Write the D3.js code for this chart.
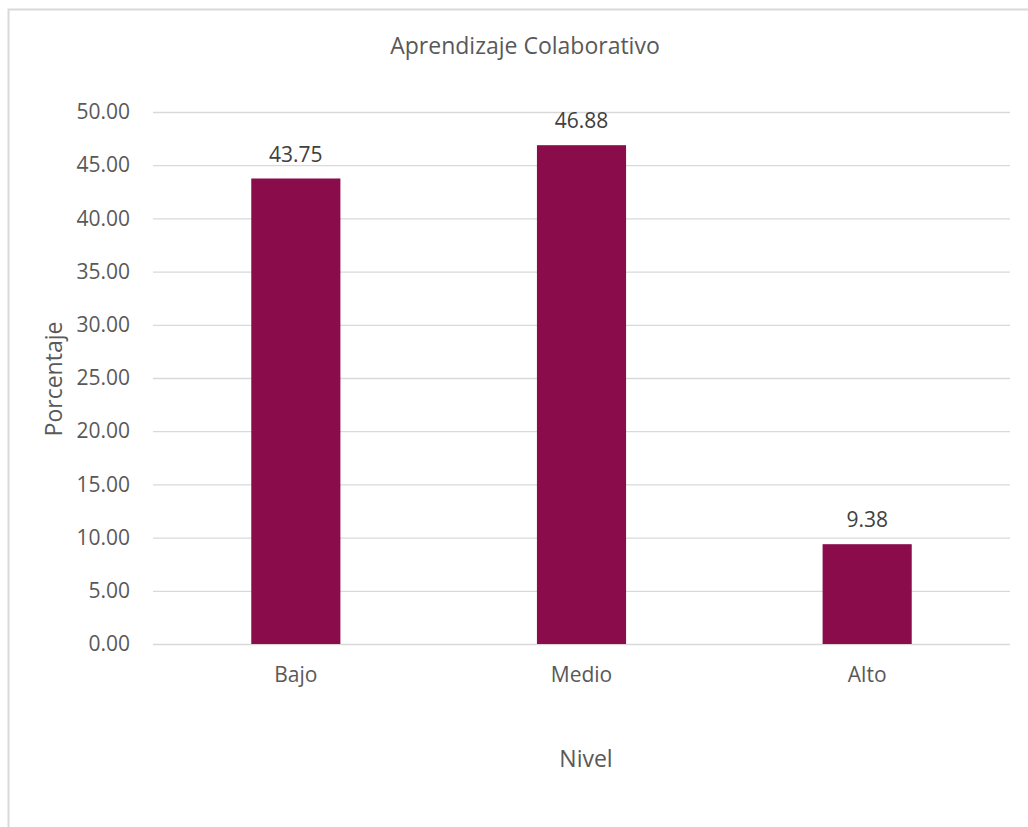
<!DOCTYPE html>
<html>
<head>
<meta charset="utf-8">
<script src="https://cdn.jsdelivr.net/npm/d3@7"></script>
<style>
  html, body { margin: 0; padding: 0; background: #fff; }
  svg { display: block; font-family: "Open Sans", sans-serif; }
</style>
</head>
<body>
<svg id="chart" width="1028" height="827"></svg>
<script>
// Chart data
const categories = ["Bajo", "Medio", "Alto"];
const values = [43.75, 46.88, 9.38];
const yTicks = [0, 5, 10, 15, 20, 25, 30, 35, 40, 45, 50];

const titleText = "Aprendizaje Colaborativo";
const xTitle = "Nivel";
const yTitle = "Porcentaje";

const W = 1028, H = 827;
const plot = { left: 153, right: 1010, top: 112, bottom: 644 };
const textColor = "#595959";
const barColor = "#8A0C4B";
const gridColor = "#D9D9D9";

const svg = d3.select("#chart");

// Outer chart frame
svg.append("rect")
  .attr("x", 8.5).attr("y", 9.5)
  .attr("width", W + 10).attr("height", H + 10)
  .attr("fill", "#fff")
  .attr("stroke", gridColor).attr("stroke-width", 2);

const x = d3.scaleBand()
  .domain(categories)
  .range([plot.left, plot.right])
  .paddingInner(0.688)
  .paddingOuter(0.344);

const y = d3.scaleLinear()
  .domain([0, 50])
  .range([plot.bottom, plot.top]);

// Gridlines and y tick labels
const yAxis = d3.axisLeft(y)
  .tickValues(yTicks)
  .tickFormat(d3.format(".2f"))
  .tickSize(-(plot.right - plot.left))
  .tickPadding(23);

const gy = svg.append("g")
  .attr("transform", `translate(${plot.left},0)`)
  .call(yAxis);
gy.select(".domain").remove();
gy.selectAll(".tick line").attr("stroke", gridColor).attr("stroke-width", 1.3);
gy.selectAll(".tick text")
  .attr("fill", textColor)
  .attr("font-size", 21)
  .attr("font-family", "Open Sans, sans-serif");

// Bars
svg.append("g").selectAll("rect")
  .data(values)
  .join("rect")
  .attr("x", (d, i) => x(categories[i]))
  .attr("y", d => y(d))
  .attr("width", x.bandwidth())
  .attr("height", d => y(0) - y(d))
  .attr("fill", barColor);

// Value labels
svg.append("g").selectAll("text")
  .data(values)
  .join("text")
  .attr("x", (d, i) => x(categories[i]) + x.bandwidth() / 2)
  .attr("y", d => y(d) - 17)
  .attr("text-anchor", "middle")
  .attr("fill", "#404040")
  .attr("font-size", 21)
  .text(d => d.toFixed(2));

// Category axis labels
const xAxis = d3.axisBottom(x).tickSize(0).tickPadding(23);
const gx = svg.append("g")
  .attr("transform", `translate(0,${plot.bottom})`)
  .call(xAxis);
gx.select(".domain").remove();
gx.selectAll(".tick text")
  .attr("fill", textColor)
  .attr("font-size", 21)
  .attr("font-family", "Open Sans, sans-serif");

// Titles
svg.append("text")
  .attr("x", 525).attr("y", 54)
  .attr("text-anchor", "middle")
  .attr("fill", textColor)
  .attr("font-size", 23)
  .text(titleText);

svg.append("text")
  .attr("x", 586).attr("y", 767)
  .attr("text-anchor", "middle")
  .attr("fill", textColor)
  .attr("font-size", 23)
  .text(xTitle);

svg.append("text")
  .attr("transform", `translate(62,379) rotate(-90)`)
  .attr("text-anchor", "middle")
  .attr("fill", textColor)
  .attr("font-size", 23)
  .text(yTitle);
</script>
</body>
</html>
